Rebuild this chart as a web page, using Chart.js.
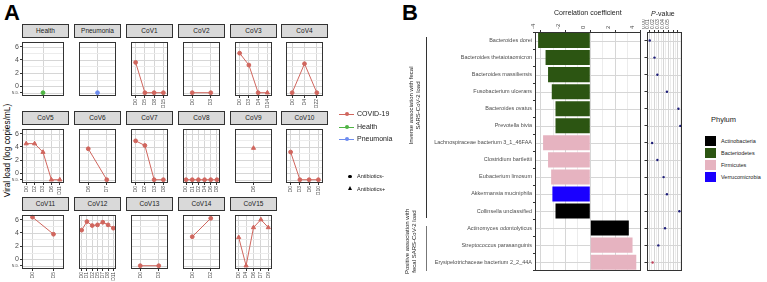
<!DOCTYPE html>
<html>
<head>
<meta charset="utf-8">
<script src="https://cdn.jsdelivr.net/npm/chart.js@4.4.0/dist/chart.umd.min.js"></script>
<style>
  body{margin:0;background:#fff;font-family:"Liberation Sans",Arial,sans-serif;}
  #fig{position:relative;width:767px;height:282px;overflow:hidden;}
  canvas{position:absolute;}
  .strip{position:absolute;background:#d9d9d9;border:1px solid #333;box-sizing:border-box;
         font-size:6.5px;text-align:center;color:#1a1a1a;line-height:11px;}
</style>
</head>
<body>
<div id="fig"></div>
<script>
// ---------------- data: panel A (viral load, N.D. drawn at -1) ----------------
const ND = -1;
const facetNames = ['Health','Pneumonia','CoV1','CoV2','CoV3','CoV4',
                    'CoV5','CoV6','CoV7','CoV8','CoV9','CoV10',
                    'CoV11','CoV12','CoV13','CoV14','CoV15'];
const facetGroups = ['Health','Pneumonia','COVID-19','COVID-19','COVID-19','COVID-19',
                     'COVID-19','COVID-19','COVID-19','COVID-19','COVID-19','COVID-19',
                     'COVID-19','COVID-19','COVID-19','COVID-19','COVID-19'];
const facetDays = [
  [''], [''],
  ['D0','D5','D8','D15'],
  ['D0','D3'],
  ['D0','D3','D4','D14'],
  ['D0','D4','D22'],
  ['D0','D2','D3','D6','D11'],
  ['D6','D7'],
  ['D0','D2','D3','D8'],
  ['D0','D1','D2','D4','D6','D8'],
  ['D6'],
  ['D0','D3','D6','D10'],
  ['D0','D5'],
  ['D0','D1','D2','D5','D7','D8','D11'],
  ['D0','D3'],
  ['D0','D2'],
  ['D0','D4','D6','D7','D9']
];
const facetLoad = [
  [ND], [ND],
  [3.6, ND, ND, ND],
  [ND, ND],
  [5.0, 3.2, ND, ND],
  [ND, 3.4, ND],
  [4.5, 4.5, 3.2, ND, ND],
  [3.7, ND],
  [4.9, 4.2, ND, ND],
  [ND, ND, ND, ND, ND, ND],
  [3.8],
  [3.2, ND, ND, ND],
  [6.4, 3.8],
  [4.4, 5.7, 5.1, 5.2, 5.6, 5.2, 4.7],
  [ND, ND],
  [3.4, 6.2],
  [3.3, ND, 4.8, 6.0, 4.8]
];
// 1 = antibiotics+ (triangle), 0 = antibiotics- (circle)
const facetAbx = [
  [0],[0],[0,0,0,0],[0,0],[0,0,0,1],[0,0,0],
  [1,1,1,1,1],[0,0],[0,0,0,0],[0,0,0,0,0,0],[1],[0,0,0,0],
  [0,0],[0,0,0,0,0,0,0],[0,0],[0,0],[1,1,1,1,1]
];
const yTicksA = [-1,0,1,2,3,4,5,6];

// ---------------- data: panel B ----------------
const taxa = ['Bacteroides dorei','Bacteroides thetaiotaomicron','Bacteroides massiliensis',
  'Fusobacterium ulcerans','Bacteroides ovatus','Prevotella bivia',
  'Lachnospiraceae bacterium 3_1_46FAA','Clostridium bartlettii','Eubacterium limosum',
  'Akkermansia muciniphila','Collinsella unclassified','Actinomyces odontolyticus',
  'Streptococcus parasanguinis','Erysipelotrichaceae bacterium 2_2_44A'];
const corrCoef = [-4.2,-3.6,-3.4,-3.1,-2.8,-2.8,-3.8,-3.4,-3.15,-3.05,-2.8,3.1,3.4,3.7];
const phylum = ['Bacteriodetes','Bacteriodetes','Bacteriodetes','Bacteriodetes','Bacteriodetes',
  'Bacteriodetes','Firmicutes','Firmicutes','Firmicutes','Verrucomicrobia','Actinobacteria',
  'Actinobacteria','Firmicutes','Firmicutes'];
const pValues = [0.001,0.011,0.017,0.037,0.061,0.065,0.006,0.017,0.030,0.037,0.063,0.033,0.019,0.007];
const corrTicks = [-4,-3,-2,-1,0,1,2,3,4];
const pTicks = [0,0.005,0.01,0.015,0.02,0.025,0.03,0.035,0.04,0.045,0.05,0.055,0.06,0.065];
const phylumNames = ['Actinobacteria','Bacteriodetes','Firmicutes','Verrucomicrobia'];

// ---------------- styles ----------------
const groupColors = {'COVID-19':'#d0665e','Health':'#4fb444','Pneumonia':'#6d8cef'};
const phylumColors = {'Actinobacteria':'#000000','Bacteriodetes':'#2c5512',
                      'Firmicutes':'#e6b3c0','Verrucomicrobia':'#1a00ff'};
const GRID = '#d6d6d6', GRID_MINOR = '#ececec', NONE = 'rgba(0,0,0,0)';
Chart.defaults.font.family = '"Liberation Sans", Arial, sans-serif';

const fig = document.getElementById('fig');
function el(css, html){
  const e = document.createElement('div');
  e.style.cssText = 'position:absolute;' + css;
  if (html !== undefined) e.innerHTML = html;
  fig.appendChild(e);
  return e;
}
function vtext(html, cx, cy, w, h, size, extra){
  el(`left:${cx-w/2}px;top:${cy-h/2}px;width:${w}px;height:${h}px;font-size:${size}px;
      text-align:center;white-space:nowrap;transform:rotate(-90deg);${extra||''}`, html);
}
function canvasAt(x, y, w, h){
  const c = document.createElement('canvas');
  c.width = w; c.height = h;
  c.style.left = x + 'px'; c.style.top = y + 'px';
  c.style.width = w + 'px'; c.style.height = h + 'px';
  fig.appendChild(c);
  return c;
}
// panel border on top of the plot area
const frame = {id:'frame', afterDraw(c){
  const a = c.chartArea, x = c.ctx;
  x.save(); x.strokeStyle = '#333'; x.lineWidth = 1;
  x.strokeRect(Math.round(a.left)+0.5, Math.round(a.top)+0.5,
               Math.round(a.width)-1, Math.round(a.height)-1);
  x.restore();
}};
const isMinorA = v => v > 0 && v % 2 === 1;
// horizontal grid lines at the y scale's ticks, filled as 1px rows under the data
function hgridFor(values){
  return {id:'hgrid', beforeDatasetsDraw(c){
    const a = c.chartArea, x = c.ctx, ys = c.scales.y;
    const vals = values || ys.ticks.map(t => t.value);
    x.save();
    vals.forEach(v => {
      let py = ys.getPixelForValue(v);
      if (!isFinite(py)) py = a.bottom - (v - ys.min) / (ys.max - ys.min) * a.height;
      x.fillStyle = (values && isMinorA(v)) ? GRID_MINOR : GRID;
      x.fillRect(Math.round(a.left), Math.round(py), Math.round(a.width), 1);
    });
    x.restore();
  }};
}

// ---------------- panel A ----------------
el('left:4px;top:0px;font-size:22px;font-weight:bold;', 'A');
vtext('Viral load (log copies/mL)', 7, 150, 120, 11, 8.3);

const colLeft = [22, 74, 126, 178, 230, 281];
const rowTop = [37, 124, 210];
const PW = 47, PH = 59, XH = 16;

facetNames.forEach((name, i) => {
  const row = Math.floor(i / 6), col = i % 6;
  const x0 = colLeft[col], y0 = rowTop[row];
  const yw = col === 0 ? 22 : 0;
  const s = el(`left:${x0}px;top:${y0-13}px;width:${PW}px;height:14px;`);
  s.className = 'strip'; s.textContent = name;
  const cv = canvasAt(x0 - yw, y0, PW + yw, PH + XH);
  const color = groupColors[facetGroups[i]];
  new Chart(cv, {
    type: 'line',
    data: {
      labels: facetDays[i],
      datasets: [{
        data: facetLoad[i],
        borderColor: color, backgroundColor: color,
        borderWidth: 1,
        pointStyle: facetAbx[i].map(a => a ? 'triangle' : 'circle'),
        pointRadius: facetAbx[i].map(a => a ? 2.4 : 1.9),
        clip: false
      }]
    },
    options: {
      responsive: false, animation: false, devicePixelRatio: 1,
      layout: {padding: 0},
      plugins: {legend: {display: false}, tooltip: {enabled: false}},
      scales: {
        x: {
          type: 'category', offset: true,
          grid: {color: GRID, lineWidth: 1, offset: false, tickLength: 2, tickColor: '#333'},
          border: {display: false},
          ticks: {maxRotation: 90, minRotation: 90, autoSkip: false, padding: 1,
                  font: {size: 5}, color: '#4d4d4d'},
          afterFit: s => { s.height = XH; s.paddingLeft = 0; s.paddingRight = 0; }
        },
        y: {
          type: 'linear', min: -1.5, max: 6.7,
          afterBuildTicks: s => { s.ticks = yTicksA.map(v => ({value: v})); },
          grid: {
            drawOnChartArea: false,
            drawTicks: col === 0, tickLength: 2,
            tickColor: c => (c.tick && isMinorA(c.tick.value)) ? NONE : '#333'
          },
          border: {display: false},
          ticks: {
            display: col === 0, autoSkip: false, padding: 1, color: '#4d4d4d',
            font: c => ({size: c.tick && c.tick.value === -1 ? 3.6 : 7}),
            callback: v => v === -1 ? 'N.D.' : (v % 2 === 0 ? String(v) : '')
          },
          afterFit: s => { s.width = yw; }
        }
      }
    },
    plugins: [hgridFor(yTicksA), frame]
  });
});

// legend for panel A
const legA = [['COVID-19',114],['Health',127],['Pneumonia',139]];
legA.forEach(([g, y]) => {
  el(`left:339px;top:${y-0.5}px;width:15px;height:1px;background:${groupColors[g]};`);
  el(`left:344.5px;top:${y-2}px;width:4px;height:4px;border-radius:50%;background:${groupColors[g]};`);
  el(`left:357px;top:${y-5}px;font-size:7px;line-height:10px;color:#1a1a1a;`, g);
});
el('left:348px;top:174.5px;width:3.5px;height:3.5px;border-radius:50%;background:#000;');
el('left:357px;top:171px;font-size:5.5px;line-height:10px;color:#1a1a1a;', 'Antibiotics-');
el('left:347.5px;top:186px;width:0;height:0;border-left:2.2px solid transparent;border-right:2.2px solid transparent;border-bottom:4px solid #000;');
el('left:357px;top:184px;font-size:5.5px;line-height:10px;color:#1a1a1a;', 'Antibiotics+');

// ---------------- panel B ----------------
el('left:402px;top:0px;font-size:22px;font-weight:bold;', 'B');

// group brackets
el('left:426px;top:37px;width:1px;height:181px;background:#333;');
el('left:426px;top:226px;width:1px;height:45px;background:#777;');
vtext('Inverse association with fecal<br>SARS-CoV-2 load', 415, 105, 100, 15, 6, 'line-height:7px;color:#1a1a1a;');
vtext('Positive association with<br>fecal SARS-CoV-2 load', 411, 241, 90, 15, 6, 'line-height:7px;color:#1a1a1a;');

const cvBar = canvasAt(425, 0, 216, 275);
new Chart(cvBar, {
  type: 'bar',
  data: {
    labels: taxa,
    datasets: [{
      data: corrCoef,
      backgroundColor: phylum.map(p => phylumColors[p]),
      barPercentage: 0.88, categoryPercentage: 1
    }]
  },
  options: {
    indexAxis: 'y',
    responsive: false, animation: false, devicePixelRatio: 1,
    layout: {padding: 0},
    plugins: {legend: {display: false}, tooltip: {enabled: false}},
    scales: {
      x: {
        position: 'top', min: -4.45, max: 4.05,
        afterBuildTicks: s => { s.ticks = corrTicks.map(v => ({value: v})); },
        grid: {
          color: c => (c.tick && c.tick.value % 2 !== 0) ? GRID_MINOR : GRID,
          tickLength: 2,
          tickColor: c => (c.tick && c.tick.value % 2 !== 0) ? NONE : '#333'
        },
        border: {display: false},
        ticks: {maxRotation: 90, minRotation: 90, autoSkip: false, padding: 1, font: {size: 6}, color: '#4d4d4d',
                callback: v => v % 2 === 0 ? String(v) : ''},
        title: {display: true, text: 'Correlation coefficient', font: {size: 7}, color: '#1a1a1a',
                padding: {top: 9, bottom: 0}},
        afterFit: s => { s.height = 32; }
      },
      y: {
        grid: {drawOnChartArea: false, tickLength: 2, tickColor: '#333'},
        border: {display: false},
        ticks: {autoSkip: false, padding: 1, font: {size: 5.5}, color: '#4d4d4d'},
        afterFit: s => { s.width = 110; }
      }
    }
  },
  plugins: [hgridFor(null), frame]
});

// P-value dot panel
el('left:651px;top:9px;font-size:7px;line-height:10px;color:#1a1a1a;', '<i>P</i>-value');
const cvP = canvasAt(642, 0, 44, 275);
new Chart(cvP, {
  type: 'line',
  data: {
    labels: taxa,
    datasets: [{
      data: pValues, showLine: false,
      pointRadius: 1.2, borderWidth: 0,
      backgroundColor: taxa.map((t, i) => i === taxa.length - 1 ? '#c0405a' : '#1c1c78'),
      borderColor: NONE, clip: false
    }]
  },
  options: {
    indexAxis: 'y',
    responsive: false, animation: false, devicePixelRatio: 1,
    layout: {padding: 0},
    plugins: {legend: {display: false}, tooltip: {enabled: false}},
    scales: {
      x: {
        position: 'top', min: -0.0037, max: 0.0685,
        afterBuildTicks: s => { s.ticks = pTicks.map(v => ({value: v})); },
        grid: {
          color: c => (c.tick && Math.round(c.tick.value * 1000) % 10 !== 0) ? GRID_MINOR : GRID,
          tickLength: 2,
          tickColor: c => (c.tick && Math.round(c.tick.value * 1000) % 10 !== 0) ? NONE : '#333'
        },
        border: {display: false},
        ticks: {maxRotation: 90, minRotation: 90, autoSkip: false, padding: 1, font: {size: 5}, color: '#4d4d4d',
                callback: v => (Math.round(v * 1000) % 10 === 0 && v <= 0.05) ? v.toFixed(2) : ''},
        afterFit: s => { s.height = 32; }
      },
      y: {
        type: 'category', offset: true,
        grid: {drawOnChartArea: false, offset: false, tickLength: 3, tickColor: '#333'},
        border: {display: false},
        ticks: {display: false},
        afterFit: s => { s.width = 5; }
      }
    }
  },
  plugins: [hgridFor(null), frame]
});

// phylum legend
el('left:711px;top:114px;font-size:7.5px;line-height:12px;color:#1a1a1a;', 'Phylum');
phylumNames.forEach((p, i) => {
  const y = 136 + i * 12;
  el(`left:705px;top:${y}px;width:11px;height:10px;background:${phylumColors[p]};`);
  el(`left:721px;top:${y}px;font-size:5.5px;line-height:10px;color:#1a1a1a;`, p);
});
</script>
</body>
</html>
